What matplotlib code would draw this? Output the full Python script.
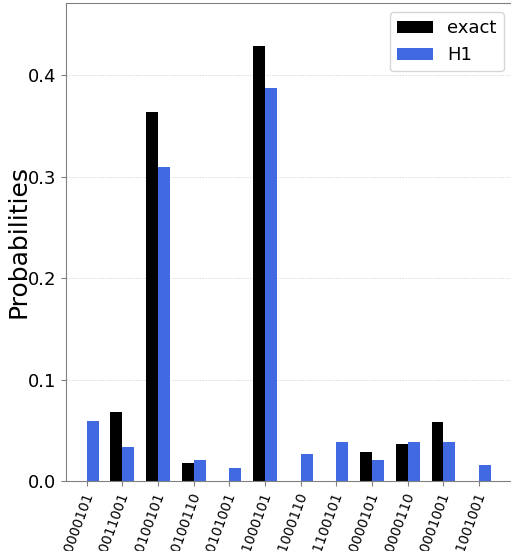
import matplotlib
matplotlib.use("Agg")
import matplotlib.pyplot as plt
import matplotlib.transforms as mtransforms
import numpy as np

# bitstring outcomes and their probabilities
states = [
    "0000000101", "0000011001", "0000100101", "0000100110",
    "0000101001", "0001000101", "0001000110", "0001100101",
    "0010000101", "0010000110", "0010001001", "0011001001",
]
exact = [0.0, 0.0684, 0.3636, 0.0181, 0.0, 0.4287,
         0.0, 0.0, 0.0286, 0.0361, 0.0582, 0.0]
h1 = [0.0588, 0.0339, 0.3090, 0.0204, 0.0131, 0.3870,
      0.0269, 0.0385, 0.0204, 0.0385, 0.0385, 0.0158]
series_names = ["exact", "H1"]
series_colors = ["black", "#4169E1"]

fig = plt.figure(figsize=(5.11, 5.51), dpi=100)

# axes run past the right edge of the canvas
ax = fig.add_axes([66 / 511, 70 / 551, 463 / 511, 478 / 551])

ind = np.arange(len(states))
width = 1 / 3

for k, (vals, name, color) in enumerate(zip([exact, h1], series_names, series_colors)):
    ax.bar(
        ind + (k - 1) * width,
        vals,
        width=width,
        align="edge",
        color=color,
        label=name,
        zorder=2,
    )

ax.set_xlim(-0.58, 12.4)
ax.set_ylim(0, 0.471)
ax.set_xticks(ind)
ax.set_xticklabels(states, fontsize=10, rotation=70, ha="right", va="top")

# nudge rotated labels so their ends sit just right of each tick
shift = mtransforms.ScaledTranslation(9 / 100, 0, fig.dpi_scale_trans)
for lbl in ax.get_xticklabels():
    lbl.set_transform(lbl.get_transform() + shift)

ax.set_yticks([0.0, 0.1, 0.2, 0.3, 0.4])
ax.tick_params(axis="y", labelsize=13)
ax.set_ylabel("Probabilities", fontsize=18, labelpad=-2)

ax.grid(axis="y", which="major", linestyle=(0, (2, 2)), linewidth=0.5,
        color="#cccccc", zorder=0)
for side in ax.spines.values():
    side.set_color("#808080")
ax.tick_params(color="#808080")

ax.legend(
    loc="upper right",
    bbox_to_anchor=(504 / 511, 1 - 12 / 551),
    bbox_transform=fig.transFigure,
    borderaxespad=0,
    fontsize=13,
)

fig.savefig("out.png", dpi=100)
